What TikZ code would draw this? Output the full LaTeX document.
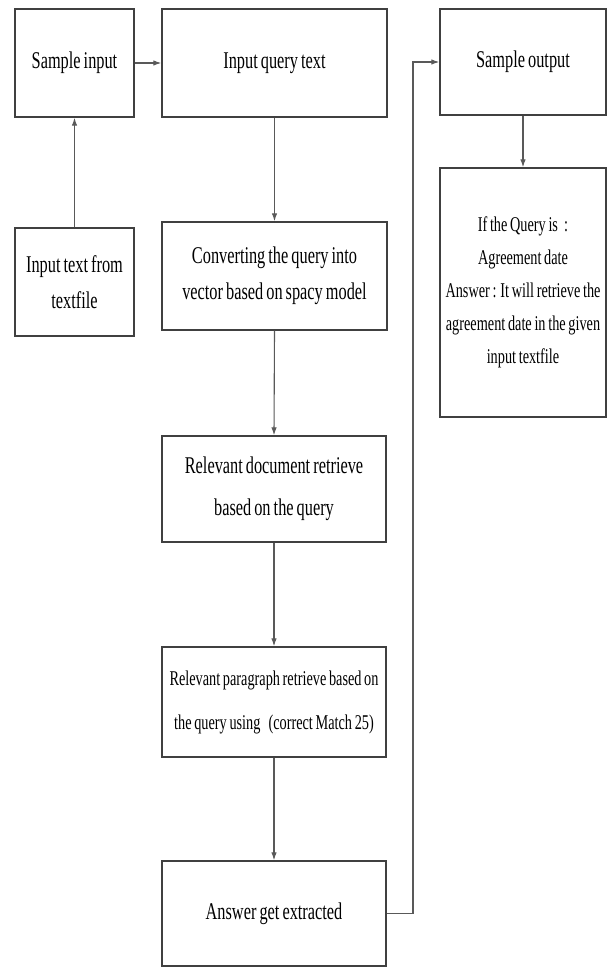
\documentclass[tikz,border=0pt]{standalone}
\usepackage{fontspec}
\setmainfont{Liberation Serif}[FakeStretch=0.68,WordSpace=0.75]
\usetikzlibrary{arrows.meta}
\begin{document}
\begin{tikzpicture}[x=1pt,y=-1pt,
  boxnode/.style={draw=black!75,line width=1.4pt,fill=white,inner sep=0pt,align=center,anchor=center,text=black},
  bigtext/.style={font=\fontsize{24}{36}\selectfont},
  smalltext/.style={font=\fontsize{21}{33}\selectfont},
  conn/.style={draw=black!65,line width=1.1pt,-{Latex[length=8pt,width=5.5pt]}}]
\useasboundingbox[fill=white] (0,0) rectangle (609,968);
\node[boxnode,bigtext,minimum width=119pt,minimum height=108pt] (si) at (74.5,63) {Sample input};
\node[boxnode,bigtext,minimum width=225pt,minimum height=108pt] (iqt) at (274.5,63) {Input query text};
\node[boxnode,bigtext,minimum width=166pt,minimum height=106pt] (so) at (523,62) {Sample output};
\node[boxnode,bigtext,minimum width=119pt,minimum height=108pt] (itf) at (74.5,282) {Input text from\\textfile};
\node[boxnode,bigtext,minimum width=225pt,minimum height=108pt] (conv) at (274.5,276) {Converting the query into\\vector based on spacy model};
\node[boxnode,smalltext,minimum width=166pt,minimum height=249pt] (ifq) at (523,292.5) {If the Query is \,:\\Agreement date\\Answer : It will retrieve the\\agreement date in the given\\input textfile};
\node[boxnode,font=\fontsize{24}{42}\selectfont,minimum width=224pt,minimum height=106pt] (rd) at (274,489) {Relevant document retrieve\\based on the query};
\node[boxnode,font=\fontsize{21}{44}\selectfont,minimum width=224pt,minimum height=110pt] (rp) at (274,702) {Relevant paragraph retrieve based on\\the query using \ \ (correct Match 25)};
\node[boxnode,bigtext,minimum width=224pt,minimum height=105pt] (ans) at (274,913.5) {Answer get extracted};
\coordinate (bend) at (413,913.5);
\draw[conn] (si.east) -- (iqt.west);
\draw[conn] (itf.north) -- (si.south);
\draw[conn] (iqt.south) -- (conv.north);
\draw[conn] (conv.south) -- (rd.north);
\draw[conn] (rd.south) -- (rp.north);
\draw[conn] (rp.south) -- (ans.north);
\draw[conn] (so.south) -- (ifq.north);
\draw[conn] (ans.east) -- (bend) |- (so.west);
\end{tikzpicture}
\end{document}
